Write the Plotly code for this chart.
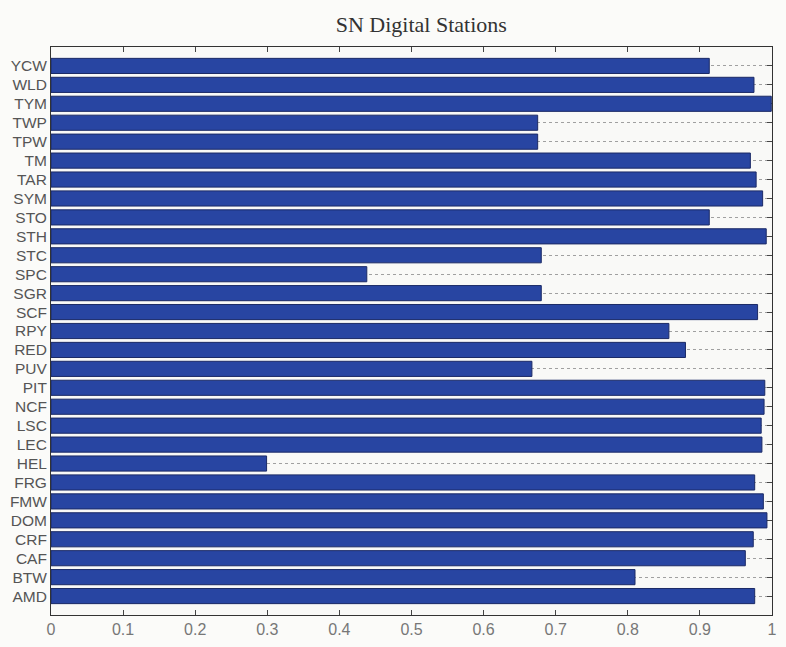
import plotly.graph_objects as go

stations = ["YCW", "WLD", "TYM", "TWP", "TPW", "TM", "TAR", "SYM", "STO", "STH",
            "STC", "SPC", "SGR", "SCF", "RPY", "RED", "PUV", "PIT", "NCF", "LSC",
            "LEC", "HEL", "FRG", "FMW", "DOM", "CRF", "CAF", "BTW", "AMD"]
values = [0.913, 0.975, 0.999, 0.675, 0.675, 0.970, 0.978, 0.987, 0.913, 0.992,
          0.680, 0.438, 0.680, 0.980, 0.857, 0.880, 0.667, 0.990, 0.989, 0.985,
          0.986, 0.299, 0.976, 0.988, 0.993, 0.974, 0.963, 0.810, 0.976]
x_ticks = [0, 0.1, 0.2, 0.3, 0.4, 0.5, 0.6, 0.7, 0.8, 0.9, 1]
x_tick_labels = ["0", "0.1", "0.2", "0.3", "0.4", "0.5", "0.6", "0.7", "0.8", "0.9", "1"]

# bottom-to-top order
cats = stations[::-1]
vals = values[::-1]

fig = go.Figure()
fig.add_trace(go.Bar(
    y=list(range(len(cats))),
    x=vals,
    orientation="h",
    width=0.8,
    marker=dict(color="#2845a2", line=dict(color="#1b2a66", width=1)),
    hoverinfo="x+text",
    text=cats,
    textposition="none",
))

fig.update_layout(
    width=786, height=647,
    margin=dict(l=51, r=9, t=47, b=26),
    paper_bgcolor="#fbfbf9",
    plot_bgcolor="#f9f9f7",
    showlegend=False,
    bargap=0.2,
    title=dict(text="SN Digital Stations", x=0.536, xanchor="center", y=0.962, yanchor="middle",
               font=dict(family="Liberation Serif", size=22, color="#333")),
    font=dict(family="Liberation Sans", size=15, color="#555"),
)
fig.update_xaxes(
    range=[0, 1], tickvals=x_ticks, ticktext=x_tick_labels,
    ticks="inside", ticklen=5, tickcolor="#444",
    showline=True, linecolor="#333", linewidth=1, mirror="allticks",
    showgrid=False, zeroline=False, layer="below traces",
    tickfont=dict(size=16, color="#777"),
)
fig.update_yaxes(
    range=[-1, len(cats)], tickvals=list(range(len(cats))), ticktext=cats,
    ticks="inside", ticklen=5, tickcolor="#444",
    showline=True, linecolor="#333", linewidth=1, mirror="allticks",
    showgrid=True, gridcolor="#a0a0a0", griddash="dot", gridwidth=1,
    zeroline=False, layer="below traces",
    tickfont=dict(size=15.5, color="#555"),
)

fig.write_html("out.html", config={"displayModeBar": False},
               post_script="document.body.style.margin='0';")
